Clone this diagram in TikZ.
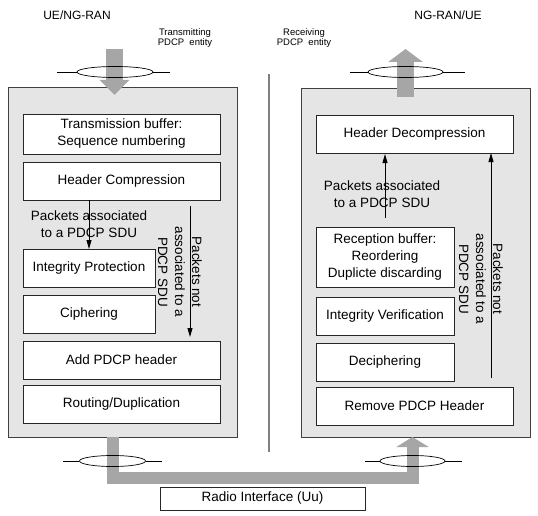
\documentclass[tikz,border=0pt]{standalone}
\usepackage{fontspec}
\setmainfont{Liberation Sans}
\usetikzlibrary{positioning,arrows.meta,shapes.geometric}

\begin{document}
\begin{tikzpicture}[
        x=1pt, y=-1pt,
        node distance=8pt,
        entity/.style={draw=black!75, fill=black!10, line width=1pt, minimum width=229pt, inner sep=0pt, outer sep=0pt},
        func/.style={draw=black!85, fill=white, line width=0.9pt, align=center, minimum height=38pt, inner sep=2pt, outer sep=0pt, font=\fontsize{13.5}{17}\selectfont},
        wide/.style={minimum width=197pt},
        note/.style={align=center, font=\fontsize{13.5}{17}\selectfont},
        small/.style={align=center, font=\fontsize{9.5}{10.5}\selectfont},
        flow/.style={draw=black!35, line join=miter},
        tap/.style={draw, ellipse, inner sep=0pt, minimum height=11pt, line width=0.7pt},
        pkt/.style={-{Triangle[length=9pt,width=5pt]}, line width=0.8pt}
        ]
        \useasboundingbox (0,0) rectangle (538,516);

        % headings
        \node[font=\fontsize{12}{14}\selectfont] (sideL) at (77,15) {UE/NG-RAN};
        \node[font=\fontsize{12}{14}\selectfont] (sideR) at (448,15) {NG-RAN/UE};
        \node[small] (txlabel) at (185,38) {Transmitting\\PDCP\ \ entity};
        \node[small] (rxlabel) at (304,38) {Receiving\\PDCP\ \ entity};

        % the two PDCP entities
        \node[entity, minimum height=349pt] (txent) at (122.5,262.5) {};
        \node[entity, minimum height=348pt] (rxent) at (415.5,263) {};
        \draw[draw=black!50, line width=2pt] (269,74) -- (269,452);

        % transmitting side
        \node[func, wide, minimum height=40pt] (txbuf) at (121.5,134) {Transmission buffer:\\Sequence numbering};
        \node[func, wide, below=of txbuf] (hcomp) {Header Compression};
        \node[func, minimum width=132pt, below=49pt of hcomp.south west, anchor=north west] (integ) {Integrity Protection};
        \node[func, minimum width=132pt, below=of integ] (ciph) {Ciphering};
        \node[func, wide, below=of ciph.south west, anchor=north west] (addhdr) {Add PDCP header};
        \node[func, wide, below=6pt of addhdr] (routing) {Routing/Duplication};

        % receiving side
        \node[func, wide] (hdecomp) at (414.5,134) {Header Decompression};
        \node[func, minimum width=138pt, minimum height=60pt, below=74pt of hdecomp.south west, anchor=north west] (rxbuf) {Reception buffer:\\Reordering\\Duplicte discarding};
        \node[func, minimum width=138pt, below=10pt of rxbuf] (integv) {Integrity Verification};
        \node[func, minimum width=138pt, below=of integv] (deciph) {Deciphering};
        \node[func, wide, below=6pt of deciph.south west, anchor=north west] (rmhdr) {Remove PDCP Header};

        % packet paths
        \coordinate (bypassL) at (190,0);
        \coordinate (bypassR) at (491,0);
        \draw[pkt] (hcomp.south -| integ.north) -- (integ.north);
        \draw[pkt, shorten <=6pt, shorten >=4pt] (hcomp.south -| bypassL) -- (addhdr.north -| bypassL);
        \draw[pkt, shorten <=9pt, shorten >=1pt] (rxbuf.north) -- (hdecomp.south -| rxbuf.north);
        \draw[pkt, shorten <=9pt] (rmhdr.north -| bypassR) -- (hdecomp.south -| bypassR);
        \node[note] (assocL) at (89,224.5) {Packets associated\\to a PDCP SDU};
        \node[note] (assocR) at (382,194.5) {Packets associated\\to a PDCP SDU};
        \node[note, rotate=-90] (notassocL) at (180,272) {Packets not\\associated to a\\PDCP SDU};
        \node[note, rotate=-90] (notassocR) at (481,279) {Packets not\\associated to a\\PDCP SDU};

        % data flow in and out
        \coordinate (inL) at (114.5,49);
        \coordinate (outR) at (405.5,49);
        \coordinate (downL) at (112.5,478);
        \coordinate (upR) at (412.5,478);
        \draw[flow, line width=17pt, -{Triangle[width=29pt,length=15pt]}] (inL) -- ([yshift=-7pt]txent.north -| inL);
        \draw[flow, line width=17pt, -{Triangle[width=34pt,length=13pt]}] ([yshift=-8pt]rxent.north -| outR) -- (outR);
        \draw[flow, line width=12pt, -{Triangle[width=32pt,length=10pt]}] (txent.south -| downL) -- (downL) -- (upR) -- (rxent.south -| upR);

        % bearers
        \node[tap, minimum width=76pt] (tapTL) at (115,72) {};
        \node[tap, minimum width=75pt] (tapTR) at (405.5,72) {};
        \node[tap, minimum width=66pt] (tapBL) at (112.5,461) {};
        \node[tap, minimum width=65pt] (tapBR) at (412.5,461) {};
        \draw[line width=0.7pt] (tapTL.west) -- ++(-20,0) (tapTL.east) -- ++(17,0);
        \draw[line width=0.7pt] (tapTR.west) -- ++(-18,0) (tapTR.east) -- ++(22,0);
        \draw[line width=0.7pt] (tapBL.west) -- ++(-16,0) (tapBL.east) -- ++(16,0);
        \draw[line width=0.7pt] (tapBR.west) -- ++(-15,0) (tapBR.east) -- ++(17,0);

        \node[func, minimum width=205pt, minimum height=23pt] (radio) at (262.5,498.5) {Radio Interface (Uu)};
    \end{tikzpicture}
\end{document}
